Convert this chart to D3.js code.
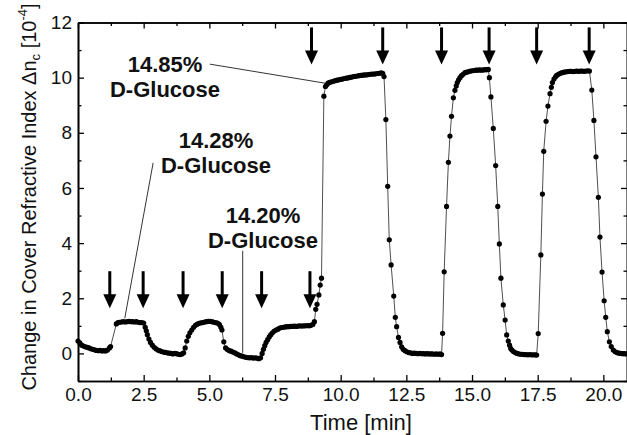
<!DOCTYPE html>
<html>
<head>
<meta charset="utf-8">
<script src="https://cdn.jsdelivr.net/npm/d3@7"></script>
<style>
  body { margin: 0; background: #fff; }
  text { font-family: "Liberation Sans", Arial, sans-serif; }
</style>
</head>
<body>
<svg id="chart" width="627" height="435"></svg>
<script>
// [time in min, change in cover refractive index in 1e-4]
var lowSteps = [
  [0,0.45],[0.07,0.38],[0.14,0.3],[0.21,0.27],[0.28,0.24],[0.35,0.22],[0.42,0.2],[0.49,0.17],[0.56,0.15],
  [0.63,0.13],[0.7,0.11],[0.77,0.1],[0.84,0.11],[0.91,0.09],[0.98,0.1],[1.05,0.09],[1.12,0.12],[1.2,0.2],[1.24,0.25],
  [1.46,1.07],[1.52,1.12],[1.58,1.13],[1.65,1.14],[1.72,1.15],[1.8,1.14],[1.87,1.15],[1.94,1.16],[2.01,1.15],
  [2.08,1.15],[2.15,1.14],[2.22,1.15],[2.29,1.13],[2.36,1.12],[2.43,1.12],[2.5,1.1],
  [2.56,0.95],[2.6,0.82],[2.64,0.68],[2.7,0.52],[2.76,0.4],[2.83,0.3],[2.9,0.22],[2.97,0.17],[3.04,0.12],
  [3.11,0.1],[3.18,0.07],[3.25,0.05],[3.32,0.04],[3.4,0.02],[3.47,0.01],[3.54,0.0],[3.61,-0.02],[3.68,0.0],
  [3.75,-0.01],[3.82,-0.03],[3.89,-0.04],[3.96,-0.02],[4.02,0.02],
  [4.08,0.2],[4.14,0.45],[4.2,0.62],[4.26,0.75],[4.33,0.85],[4.4,0.95],[4.47,1.02],[4.54,1.06],[4.61,1.09],
  [4.68,1.11],[4.75,1.12],[4.82,1.14],[4.89,1.15],[4.96,1.16],[5.03,1.16],[5.1,1.15],[5.17,1.13],[5.24,1.12],
  [5.31,1.1],[5.38,1.05],[5.44,0.95],[5.48,0.85],
  [5.55,0.42],[5.62,0.2],[5.69,0.14],[5.76,0.1],[5.83,0.08],[5.9,0.05],[5.97,0.02],[6.04,-0.02],[6.11,-0.05],
  [6.18,-0.08],[6.25,-0.1],[6.32,-0.12],[6.39,-0.14],[6.46,-0.15],[6.53,-0.16],[6.6,-0.15],[6.67,-0.17],
  [6.74,-0.16],[6.81,-0.17],[6.88,-0.19],[6.95,-0.16],
  [7.01,0.0],[7.06,0.15],[7.11,0.28],[7.16,0.4],[7.22,0.5],[7.28,0.6],[7.34,0.68],[7.4,0.75],[7.47,0.81],
  [7.54,0.85],[7.61,0.88],[7.68,0.92],[7.75,0.94],[7.82,0.95],[7.89,0.96],[7.96,0.97],[8.03,0.97],[8.1,0.98],
  [8.17,0.98],[8.24,0.99],[8.31,0.98],[8.38,0.99],[8.45,1.0],[8.52,0.99],[8.59,1.0],[8.66,1.0],[8.73,1.01],
  [8.8,1.0],[8.87,1.02],[8.94,1.05],[9.0,1.15],
  [9.05,1.6],[9.1,1.78],[9.17,2.12],[9.22,2.48],[9.27,2.73]
];
var highSteps = [
  [9.36,9.33],[9.42,9.68],[9.47,9.74],[9.52,9.8],[9.58,9.83],[9.65,9.85],[9.72,9.87],[9.79,9.89],[9.86,9.91],
  [9.93,9.92],[10.0,9.94],[10.07,9.95],[10.14,9.97],[10.21,9.98],[10.28,9.99],[10.35,10.01],[10.42,10.02],
  [10.49,10.04],[10.56,10.05],[10.63,10.06],[10.7,10.07],[10.77,10.08],[10.84,10.09],[10.91,10.1],[10.98,10.1],
  [11.05,10.11],[11.12,10.12],[11.19,10.13],[11.26,10.13],[11.33,10.14],[11.4,10.15],[11.47,10.16],[11.54,10.17],
  [11.6,10.16],
  [11.65,10.04],[11.72,8.48],[11.79,6.06],[11.85,4.12],[11.92,3.21],[12.02,2.08],[12.08,1.31],[12.13,0.97],
  [12.2,0.58],[12.26,0.4],[12.32,0.24],[12.38,0.15],[12.45,0.1],[12.52,0.06],[12.59,0.03],[12.66,0.02],
  [12.73,0.0],[12.8,0.01],[12.87,0.0],[12.94,-0.01],[13.01,0.0],[13.08,-0.01],[13.15,-0.01],[13.22,-0.02],
  [13.29,-0.01],[13.36,-0.02],[13.43,-0.02],[13.5,-0.02],[13.57,-0.03],[13.64,-0.02],[13.71,-0.03],[13.78,-0.02],
  [13.84,-0.04],
  [13.88,0.73],[13.94,2.96],[14.03,5.33],[14.1,6.93],[14.16,7.88],[14.22,8.6],[14.29,9.27],[14.35,9.54],
  [14.4,9.7],[14.44,9.82],[14.49,9.92],[14.54,10.0],[14.6,10.07],[14.66,10.12],[14.73,10.18],[14.8,10.2],
  [14.87,10.22],[14.94,10.24],[15.01,10.25],[15.08,10.26],[15.15,10.27],[15.22,10.27],[15.29,10.28],
  [15.36,10.27],[15.43,10.28],[15.5,10.29],[15.57,10.29],[15.62,10.3],
  [15.66,10.0],[15.72,9.3],[15.81,8.16],[15.9,6.81],[15.98,5.33],[16.04,3.97],[16.1,2.73],[16.19,1.76],
  [16.26,1.21],[16.32,0.67],[16.38,0.45],[16.43,0.3],[16.47,0.18],[16.52,0.12],[16.58,0.07],[16.64,0.03],
  [16.71,0.0],[16.78,-0.02],[16.85,-0.03],[16.92,-0.03],[16.99,-0.04],[17.06,-0.04],[17.13,-0.05],[17.2,-0.04],
  [17.27,-0.05],[17.34,-0.05],[17.41,-0.05],[17.46,-0.06],
  [17.52,0.72],[17.62,3.57],[17.68,5.78],[17.73,7.33],[17.82,8.42],[17.89,8.97],[17.97,9.42],[18.02,9.65],
  [18.06,9.82],[18.12,9.95],[18.18,10.03],[18.22,10.08],[18.29,10.12],[18.36,10.16],[18.43,10.18],[18.5,10.2],
  [18.57,10.21],[18.64,10.22],[18.71,10.23],[18.78,10.23],[18.85,10.22],[18.92,10.23],[18.99,10.24],
  [19.06,10.23],[19.13,10.24],[19.2,10.24],[19.27,10.23],[19.34,10.24],[19.41,10.25],[19.47,10.24],
  [19.56,9.55],[19.64,8.45],[19.72,7.13],[19.81,5.66],[19.87,4.22],[19.95,2.95],[20.03,1.91],[20.09,1.31],
  [20.15,0.79],[20.23,0.42],[20.3,0.25],[20.38,0.12],[20.45,0.06],[20.52,0.03],[20.59,0.01],[20.66,0.0],
  [20.73,-0.01],[20.8,-0.01],[20.87,-0.02]
];
// injection times (min), marked by arrows
var arrowsLow = [1.21, 2.48, 4.0, 5.49, 6.99, 8.83];
var arrowsHigh = [8.89, 11.6, 13.84, 15.65, 17.46, 19.46];
var xTicks = [0, 2.5, 5, 7.5, 10, 12.5, 15, 17.5, 20];
var yTicks = [0, 2, 4, 6, 8, 10, 12];
var labels = [["14.85%", "D-Glucose"], ["14.28%", "D-Glucose"], ["14.20%", "D-Glucose"]];

var data = lowSteps.concat(highSteps);
var svg = d3.select("#chart");

var x = d3.scaleLinear().domain([0, 20.9]).range([78, 627]);
var y = d3.scaleLinear().domain([-1, 12]).range([381, 22.5]);

var xMinor = d3.range(1.25, 20.9, 2.5);
var yMinor = d3.range(-1, 12, 2);

function styleAxis(g){
    g.select(".domain").attr("stroke", "#000").attr("stroke-width", 1.6);
    g.selectAll(".tick line").attr("stroke", "#000").attr("stroke-width", 1.3);
    g.selectAll(".tick text").attr("font-size", 19).attr("fill", "#111")
        .attr("font-family", '"Liberation Sans", Arial, sans-serif');
}

// bottom
svg.append("g").attr("transform", "translate(0,381)")
    .call(d3.axisBottom(x).tickValues(xTicks).tickSize(-6).tickSizeOuter(0).tickPadding(7).tickFormat(d3.format(".1f")))
    .call(styleAxis);
svg.append("g").attr("transform", "translate(0,381)")
    .call(d3.axisBottom(x).tickValues(xMinor).tickSize(-3.5).tickSizeOuter(0).tickFormat(""))
    .call(styleAxis);
// top
svg.append("g").attr("transform", "translate(0,22.5)")
    .call(d3.axisTop(x).tickValues(xTicks).tickSize(-6).tickSizeOuter(0).tickFormat(""))
    .call(styleAxis);
svg.append("g").attr("transform", "translate(0,22.5)")
    .call(d3.axisTop(x).tickValues(xMinor).tickSize(-3.5).tickSizeOuter(0).tickFormat(""))
    .call(styleAxis);
// left
svg.append("g").attr("transform", "translate(78,0)")
    .call(d3.axisLeft(y).tickValues(yTicks).tickSize(-6).tickSizeOuter(0).tickPadding(6).tickFormat(d3.format("d")))
    .call(styleAxis);
svg.append("g").attr("transform", "translate(78,0)")
    .call(d3.axisLeft(y).tickValues(yMinor).tickSize(-3.5).tickSizeOuter(0).tickFormat(""))
    .call(styleAxis);
// right
svg.append("g").attr("transform", "translate(627,0)")
    .call(d3.axisRight(y).tickValues(yTicks).tickSize(-6).tickSizeOuter(0).tickFormat(""))
    .call(styleAxis);
svg.append("g").attr("transform", "translate(627,0)")
    .call(d3.axisRight(y).tickValues(yMinor).tickSize(-3.5).tickSizeOuter(0).tickFormat(""))
    .call(styleAxis);

// axis titles
svg.append("text")
    .attr("x", 361).attr("y", 430)
    .attr("text-anchor", "middle").attr("font-size", 22).attr("fill", "#111")
    .text("Time [min]");

var ylab = svg.append("text")
    .attr("transform", "translate(36,197) rotate(-90)")
    .attr("text-anchor", "middle").attr("font-size", 20).attr("fill", "#111");
ylab.append("tspan").text("Change in Cover Refractive Index \u0394n");
ylab.append("tspan").attr("font-size", 13).attr("dy", 4).text("c");
ylab.append("tspan").attr("dy", -4).text("  [10");
ylab.append("tspan").attr("font-size", 13).attr("dy", -9).text("-4");
ylab.append("tspan").attr("dy", 9).text("]");

// series
var line = d3.line().x(function(d){ return x(d[0]); }).y(function(d){ return y(d[1]); });
svg.append("path").datum(data)
    .attr("fill", "none").attr("stroke", "#222").attr("stroke-width", 0.8)
    .attr("d", line);
svg.append("g").selectAll("circle")
    .data(data)
    .join("circle")
    .attr("cx", function(d){ return x(d[0]); })
    .attr("cy", function(d){ return y(d[1]); })
    .attr("r", 2.6)
    .attr("fill", "#000");

// arrows
function arrow(t, tipLevel){
    var cx = x(t), tip = y(tipLevel);
    var top = tip - 37, headLen = 14, headW = 6.5;
    svg.append("line")
        .attr("x1", cx).attr("x2", cx).attr("y1", top).attr("y2", tip - headLen + 1)
        .attr("stroke", "#000").attr("stroke-width", 3);
    svg.append("path")
        .attr("d", "M" + (cx - headW) + "," + (tip - headLen) + "L" + (cx + headW) + "," + (tip - headLen) + "L" + cx + "," + tip + "Z")
        .attr("fill", "#000");
}
arrowsLow.forEach(function(t){ arrow(t, 1.64); });
arrowsHigh.forEach(function(t){ arrow(t, 10.48); });

// leader lines
var leaders = [
    [[5.02, 10.49], [9.4, 9.8]],
    [[2.86, 6.91], [1.78, 1.27]],
    [[6.27, 3.72], [6.27, 0.02]]
];
leaders.forEach(function(l){
    svg.append("line")
        .attr("x1", x(l[0][0])).attr("y1", y(l[0][1]))
        .attr("x2", x(l[1][0])).attr("y2", y(l[1][1]))
        .attr("stroke", "#000").attr("stroke-width", 0.8);
});

// annotation texts
var labelPos = [[165, 72], [216, 148], [263, 223]];
labels.forEach(function(lb, i){
    var t = svg.append("text")
        .attr("text-anchor", "middle").attr("font-size", 22).attr("font-weight", "bold").attr("fill", "#111");
    t.append("tspan").attr("x", labelPos[i][0]).attr("y", labelPos[i][1]).text(lb[0]);
    t.append("tspan").attr("x", labelPos[i][0]).attr("y", labelPos[i][1] + 25).text(lb[1]);
});
</script>
</body>
</html>
